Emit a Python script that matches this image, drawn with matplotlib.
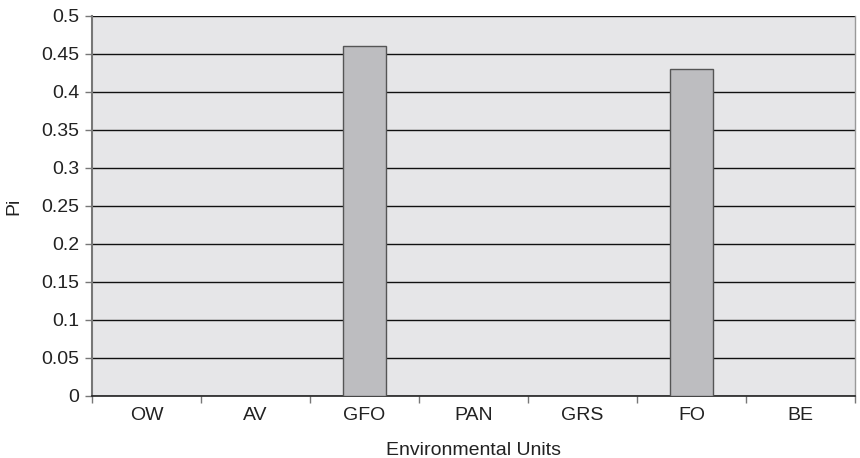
import matplotlib
matplotlib.use("Agg")
import matplotlib.pyplot as plt
import numpy as np

categories = ["OW", "AV", "GFO", "PAN", "GRS", "FO", "BE"]
values = [0, 0, 0.46, 0, 0, 0.43, 0]
yticks = [0, 0.05, 0.1, 0.15, 0.2, 0.25, 0.3, 0.35, 0.4, 0.45, 0.5]
ytick_labels = ["0", "0.05", "0.1", "0.15", "0.2", "0.25", "0.3", "0.35", "0.4", "0.45", "0.5"]

plt.rcParams['font.family'] = ['Liberation Sans', 'DejaVu Sans']

fig = plt.figure(figsize=(8.6, 4.58), dpi=100)
ax = fig.add_axes([92/860, 62/458, (855-92)/860, (396-16)/458])
ax.set_facecolor("#e6e6e8")

x = np.arange(len(categories))
for xi, v in zip(x, values):
    if v > 0:
        ax.bar(xi, v, width=0.4, color="#bdbdc0", edgecolor="#555555", linewidth=1.0, zorder=3)

ax.set_xlim(-0.5, len(categories) - 0.5)
ax.set_ylim(0, 0.5)
ax.set_yticks(yticks)
ax.set_yticklabels(ytick_labels)
ax.yaxis.grid(True, color="#111111", linewidth=1.0, zorder=1)
ax.set_axisbelow(True)

ax.set_xticks(x)
ax.set_xticklabels(categories)
ax.set_xticks(np.arange(-0.5, len(categories)), minor=True)
ax.tick_params(axis='x', which='major', length=0, pad=8, labelsize=14, colors="#222222")
ax.tick_params(axis='x', which='minor', length=5, width=1, color="#777777", direction='out')
ax.tick_params(axis='y', length=5, width=1, color="#777777", labelsize=14, labelcolor="#222222", pad=4)

ax.spines['top'].set_visible(False)
ax.spines['left'].set_color("#777777")
ax.spines['left'].set_linewidth(1.5)
ax.spines['right'].set_color("#999999")
ax.spines['right'].set_linewidth(1.0)
ax.spines['bottom'].set_color("#222222")
ax.spines['bottom'].set_linewidth(1.2)

ax.set_xlabel("Environmental Units", fontsize=14, color="#222222", labelpad=13)
ax.set_ylabel("Pi", fontsize=14, color="#222222", labelpad=14)

fig.savefig("out.png", dpi=100)
